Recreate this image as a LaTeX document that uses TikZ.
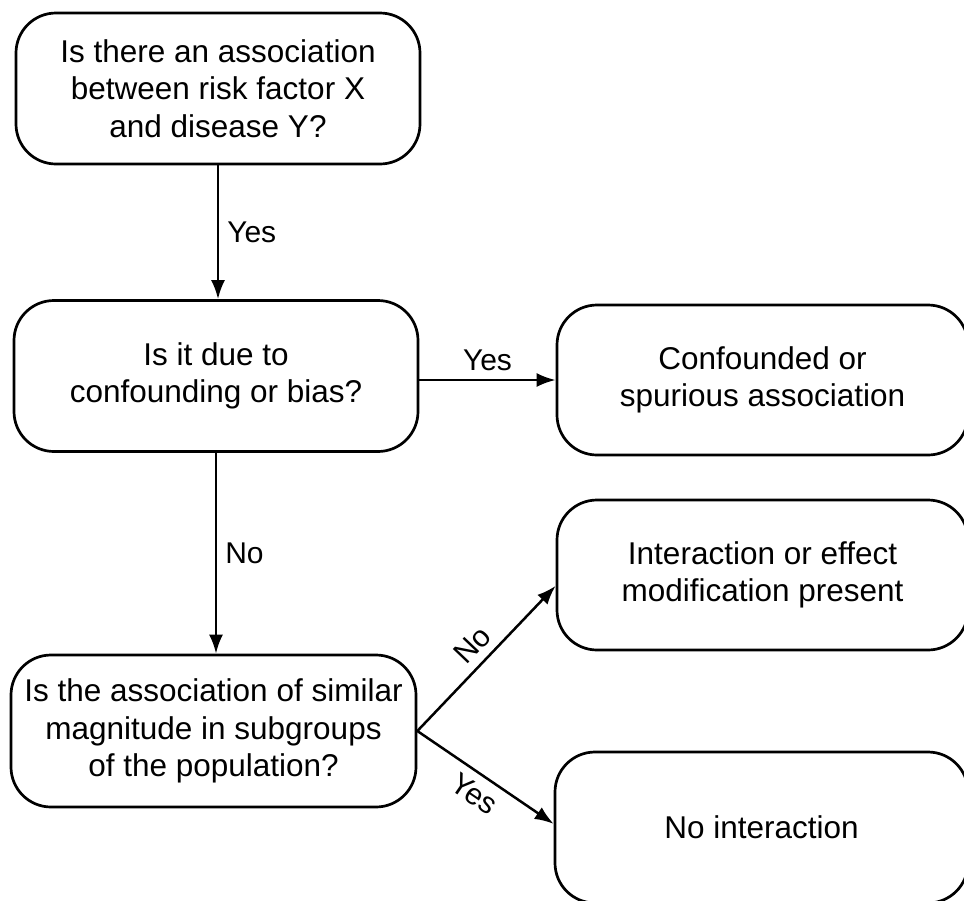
\documentclass[tikz,border=0pt]{standalone}
\usepackage{fontspec}
\setmainfont{Liberation Sans}
\usetikzlibrary{arrows.meta}
\begin{document}
\begin{tikzpicture}[x=1pt,y=-1pt,
  box/.style={draw, line width=2.7pt, rounded corners=40pt, align=center,
    inner sep=0pt, minimum height=151pt,
    font=\fontsize{31.5}{37.5}\selectfont},
  flow/.style={line width=2.5pt, -{Latex[length=19pt,width=14pt]}},
  lbl/.style={font=\fontsize{30}{35}\selectfont, inner sep=2pt}]
\useasboundingbox (0,0) rectangle (964,900);
\clip (0,0) rectangle (964,900);

% decision boxes (left column)
\node[box, minimum width=404pt] (assoc) at (218,88.5)
  {Is there an association\\between risk factor X\\and disease Y?};
\node[box, minimum width=404pt] (conf) at (216,376)
  {Is it due to\\confounding or bias?};
\node[box, minimum width=405pt, minimum height=152pt] (magn) at (213.5,731)
  {Is the association of similar\\magnitude in subgroups\\of the population?};

% outcome boxes (right column)
\node[box, minimum width=411pt, minimum height=150pt] (spur) at (762.5,380)
  {Confounded or\\spurious association};
\node[box, minimum width=411pt, minimum height=150pt] (inter) at (762.5,575)
  {Interaction or effect\\modification present};
\node[box, minimum width=413pt] (noint) at (761.5,827.5)
  {No interaction};

% connectors
\draw[flow] (assoc.south) -- node[lbl, right=6pt] {Yes} (assoc.south |- conf.north);
\draw[flow] (spur.west -| conf.east) -- node[lbl, above=6pt] {Yes} (spur.west);
\draw[flow] (conf.south) -- node[lbl, right=6pt] {No} (conf.south |- magn.north);
\draw[flow] (magn.east) -- node[lbl, sloped, above=6pt] {No} (inter.183);
\draw[flow] (magn.east) -- node[lbl, sloped, below=6pt] {Yes} (noint.179);
\end{tikzpicture}
\end{document}
